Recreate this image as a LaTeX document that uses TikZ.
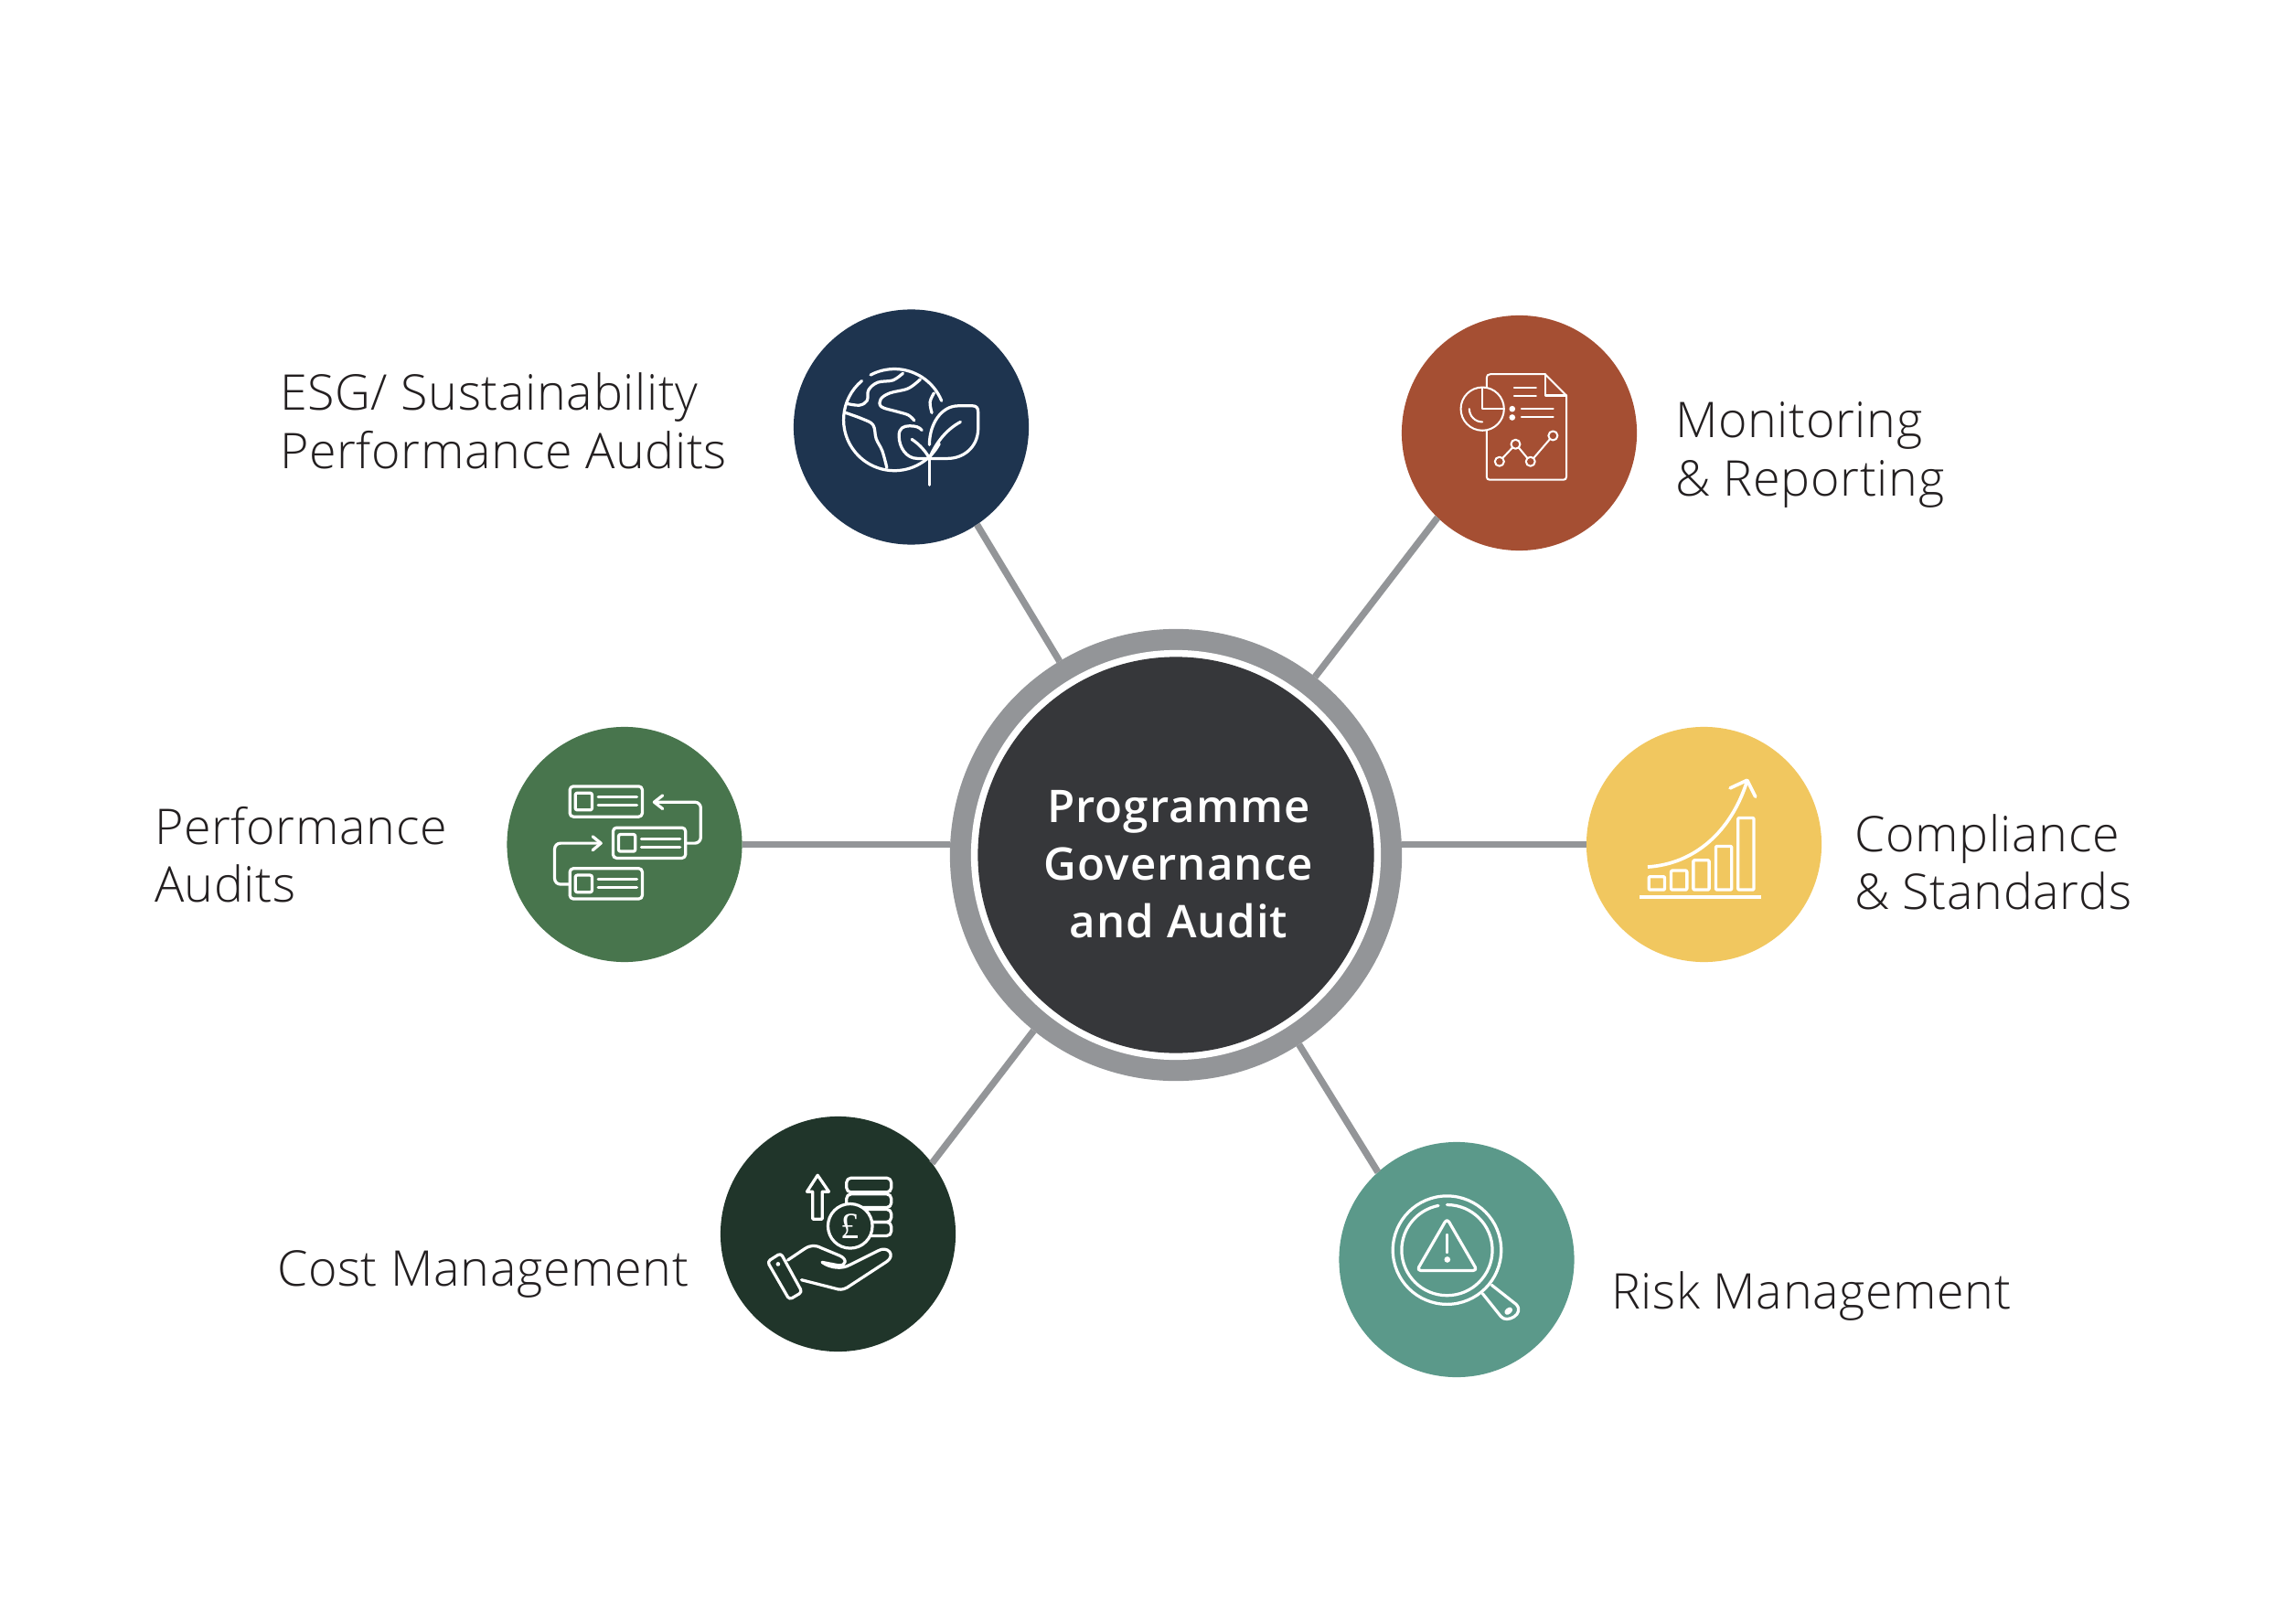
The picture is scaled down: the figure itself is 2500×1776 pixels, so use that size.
\documentclass[tikz,border=0pt]{standalone}
\usepackage{fontspec}
\setmainfont{Open Sans Light}
\newfontfamily\labelfont[LetterSpace=1.2]{Open Sans Light}
\IfFontExistsTF{Open Sans Semibold}{\newfontfamily\hubfont[LetterSpace=2.2]{Open Sans Semibold}}{\newfontfamily\hubfont[FakeBold=0.5,LetterSpace=2.2]{Open Sans}}
\newfontfamily\poundfont{Liberation Serif}
\definecolor{navy}{HTML}{1E344F}
\definecolor{rust}{HTML}{A54F33}
\definecolor{leaf}{HTML}{48754D}
\definecolor{gold}{HTML}{F1C75F}
\definecolor{pine}{HTML}{20352A}
\definecolor{teal}{HTML}{5B998A}
\definecolor{hubdark}{HTML}{36373A}
\definecolor{ringgrey}{HTML}{939598}
\definecolor{inkdark}{HTML}{231F20}
\tikzset{
  disc/.style={circle,inner sep=0pt,outer sep=0pt,minimum size=2.57cm},
  link/.style={draw=ringgrey,line width=2.1pt},
  lbl/.style={anchor=base west,inner sep=0pt,outer sep=0pt,align=left,text=inkdark,font=\labelfont\fontsize{15.3}{18}\selectfont},
  hublbl/.style={anchor=base,inner sep=0pt,outer sep=0pt,align=center,text=white,font=\hubfont\fontsize{14}{17.9}\selectfont},
  icon/.style={draw=white,line width=0.92pt,line cap=round,line join=round,fill=none},
  iconthin/.style={icon,line width=0.58pt},
  iconarea/.style={x=0.0033333cm,y=-0.0033333cm}
}
\begin{document}
\begin{tikzpicture}[x=0.01cm,y=-0.01cm]
\useasboundingbox[fill=white] (0,0) rectangle (2500,1776);
% hub
\node[circle,inner sep=0pt,outer sep=0pt,minimum size=4.94cm,fill=ringgrey] (hubring) at (1286,935) {};
\node[circle,inner sep=0pt,outer sep=0pt,minimum size=4.48cm,fill=white] (hubgap) at (1286,935) {};
\node[circle,inner sep=0pt,outer sep=0pt,minimum size=4.33cm,fill=hubdark] (hub) at (1286,935) {};
\node[hublbl] (hubtext) at (1289,1025) {Programme\\Governance\\and Audit};
% satellites
\node[disc,fill=navy] (esg) at (996.5,467) {};
\node[disc,fill=rust] (mon) at (1661.5,473.5) {};
\node[disc,fill=leaf] (perf) at (683,923.5) {};
\node[disc,fill=gold] (comp) at (1863.5,923.5) {};
\node[disc,fill=pine] (cost) at (916.5,1349.5) {};
\node[disc,fill=teal] (risk) at (1593,1377.5) {};
% connectors
\draw[link] (esg.-56.5) -- (hubring.121.1);
\draw[link] (mon.226.3) -- (hubring.52.5);
\draw[link] (perf.east) -- (perf.east -| hubring.west);
\draw[link] (comp.west) -- (comp.west -| hubring.east);
\draw[link] (cost.37.3) -- (hubring.231.4);
\draw[link] (risk.132.7) -- (hubring.-57.1);
% labels
\node[lbl] (esgtext) at (306,512) {ESG/ Sustainability\\Performance Audits};
\node[lbl] (montext) at (1832,542) {Monitoring\\\& Reporting};
\node[lbl] (perftext) at (169,986.5) {Performance\\Audits};
\node[lbl] (comptext) at (2028,994.5) {Compliance\\\& Standards};
\node[lbl] (costtext) at (303,1406) {Cost Management};
\node[lbl] (risktext) at (1762,1431) {Risk Management};
% ESG icon
\begin{scope}[shift={(860,330)},iconarea]
\draw[icon] (355,388) ++(-118:167) arc[start angle=-118,end angle=-22,radius=167];
\draw[icon] (355,388) ++(-130:167) arc[start angle=-130,end angle=-332+0,radius=167];
\draw[icon] plot[smooth,tension=.6] coordinates {(383,235) (350,258) (300,265) (270,290) (265,325) (240,340) (200,335)};
\draw[icon] plot[smooth,tension=.6] coordinates {(440,255) (400,285) (340,300) (310,320) (312,345) (360,360) (400,372) (420,390)};
\draw[icon] plot[smooth,tension=.6] coordinates {(485,300) (472,330) (478,365)};
\draw[icon] plot[smooth,tension=.6] coordinates {(195,365) (250,385) (285,405) (295,450) (315,490) (330,545)};
\draw[icon] (470,470) .. controls (470,400) and (510,342) .. (565,342) -- (612,342) .. controls (625,342) and (630,350) .. (630,362) -- (630,420) .. controls (628,480) and (580,515) .. (530,515) -- (430,515) .. controls (395,515) and (370,480) .. (370,440) .. controls (370,415) and (385,408) .. (405,408) .. controls (425,408) and (438,412) .. (445,422);
\draw[icon] (470,515) -- (470,602);
\draw[icon] (572,395) .. controls (525,420) and (490,465) .. (470,515);
\draw[icon] (412,452) .. controls (440,470) and (460,495) .. (470,515);
\end{scope}
% Monitoring icon
\begin{scope}[shift={(1520,340)},iconarea]
\draw[iconthin] (318,250) -- (318,220) .. controls (318,212) and (322,208) .. (330,208) -- (510,208) -- (580,278) -- (580,545) .. controls (580,552) and (576,555) .. (570,555) -- (328,555) .. controls (322,555) and (318,552) .. (318,545) -- (318,393);
\draw[iconthin] (510,208) -- (510,278) -- (580,278);
\draw[iconthin] (304,322) circle[radius=71];
\draw[iconthin] (304,252) -- (304,322) -- (375,322);
\draw[iconthin] (304,322) ++(180:43) arc[start angle=180,end angle=90,radius=43];
\draw[iconthin] (408,252) -- (480,252) (408,279) -- (480,279) (432,322) -- (537,322) (432,350) -- (537,350);
\fill[white] (402,322) circle[radius=10] (402,350) circle[radius=10];
\draw[iconthin] (360,495) circle[radius=15] (413,438) circle[radius=15] (462,495) circle[radius=15] (536,410) circle[radius=15];
\draw[iconthin] (370,484) -- (403,449) (423,449) -- (452,484) (472,484) -- (526,421);
\end{scope}
% Performance icon
\begin{scope}[shift={(550,790)},iconarea]
\foreach \dx/\dy in {0/0,142/136,0/270}{
  \begin{scope}[shift={(\dx,\dy)}]
  \draw[icon,rounded corners=1.1pt] (220,210) rectangle (458,310);
  \draw[icon,rounded corners=0.6pt] (238,232) rectangle (293,288);
  \draw[icon] (313,246) -- (440,246) (313,273) -- (440,273);
  \end{scope}
}
\draw[icon,rounded corners=1.8pt] (600,397) -- (650,397) -- (650,262) -- (497,262);
\draw[icon] (525,240) -- (497,262) -- (525,284);
\draw[icon,rounded corners=1.8pt] (220,532) -- (170,532) -- (170,397) -- (322,397);
\draw[icon] (295,375) -- (322,397) -- (295,420);
\end{scope}
% Compliance icon
\begin{scope}[shift={(1730,790)},iconarea]
\draw[icon,line width=1.2pt,line cap=butt] (190,575) -- (588,575);
\foreach \xa/\ya in {220/507,293/487,366/453,440/407,513/314}{
  \draw[icon,line width=0.95pt,rounded corners=0.3pt] (\xa,\ya) rectangle (\xa+52,550);
}
\draw[icon,line width=1.05pt,line cap=butt] (216,475) .. controls (370,465) and (490,360) .. (543,192);
\draw[icon,line width=1.05pt] (487,216) -- (543,190) -- (570,244);
\end{scope}
% Cost icon
\begin{scope}[shift={(780,1210)},iconarea]
\draw[icon] (343,226) -- (308,280) -- (327,280) -- (327,370) -- (358,370) -- (358,280) -- (380,280) -- cycle;
\draw[icon,rounded corners=1.4pt] (438,235) rectangle (585,282);
\draw[icon,rounded corners=1.4pt] (438,288) rectangle (585,332);
\draw[icon,rounded corners=1.4pt] (470,338) rectangle (585,380);
\draw[icon,rounded corners=1.4pt] (470,380) rectangle (585,425);
\draw[icon,fill=pine] (450,393) circle[radius=73];
\node[inner sep=0pt,outer sep=0pt,text=white,font=\poundfont\fontsize{11.5}{13}\selectfont] (pound) at (450,393) {£};
\draw[icon,rounded corners=1pt] (178,510) -- (222,482) -- (292,610) -- (250,635) -- cycle;
\fill[white] (213,518) circle[radius=7];
\draw[icon] (245,505) -- (300,468) .. controls (320,455) and (335,455) .. (355,465) -- (415,490) .. controls (440,500) and (440,525) .. (410,522) -- (358,512);
\draw[icon] (358,512) .. controls (385,532) and (425,535) .. (450,520) -- (540,475) .. controls (575,455) and (600,490) .. (570,510) -- (440,595) .. controls (425,603) and (415,603) .. (400,598) -- (290,570);
\end{scope}
% Risk icon
\begin{scope}[shift={(1455,1240)},iconarea]
\draw[icon] (383,382) circle[radius=178];
\draw[icon] (383,382) ++(270:149) arc[start angle=270,end angle=619,radius=149];
\draw[icon,rounded corners=1.2pt] (383,278) -- (284,449) -- (482,449) -- cycle;
\draw[icon,line width=1.1pt] (383,333) -- (383,388);
\fill[white] (384,413) circle[radius=10];
\draw[icon] (500,525) -- (560,600) .. controls (580,625) and (640,590) .. (610,560) -- (530,497);
\draw[icon,rotate around={40:(585,582)}] (585,582) ellipse[x radius=10,y radius=5];
\end{scope}
\end{tikzpicture}
\end{document}
